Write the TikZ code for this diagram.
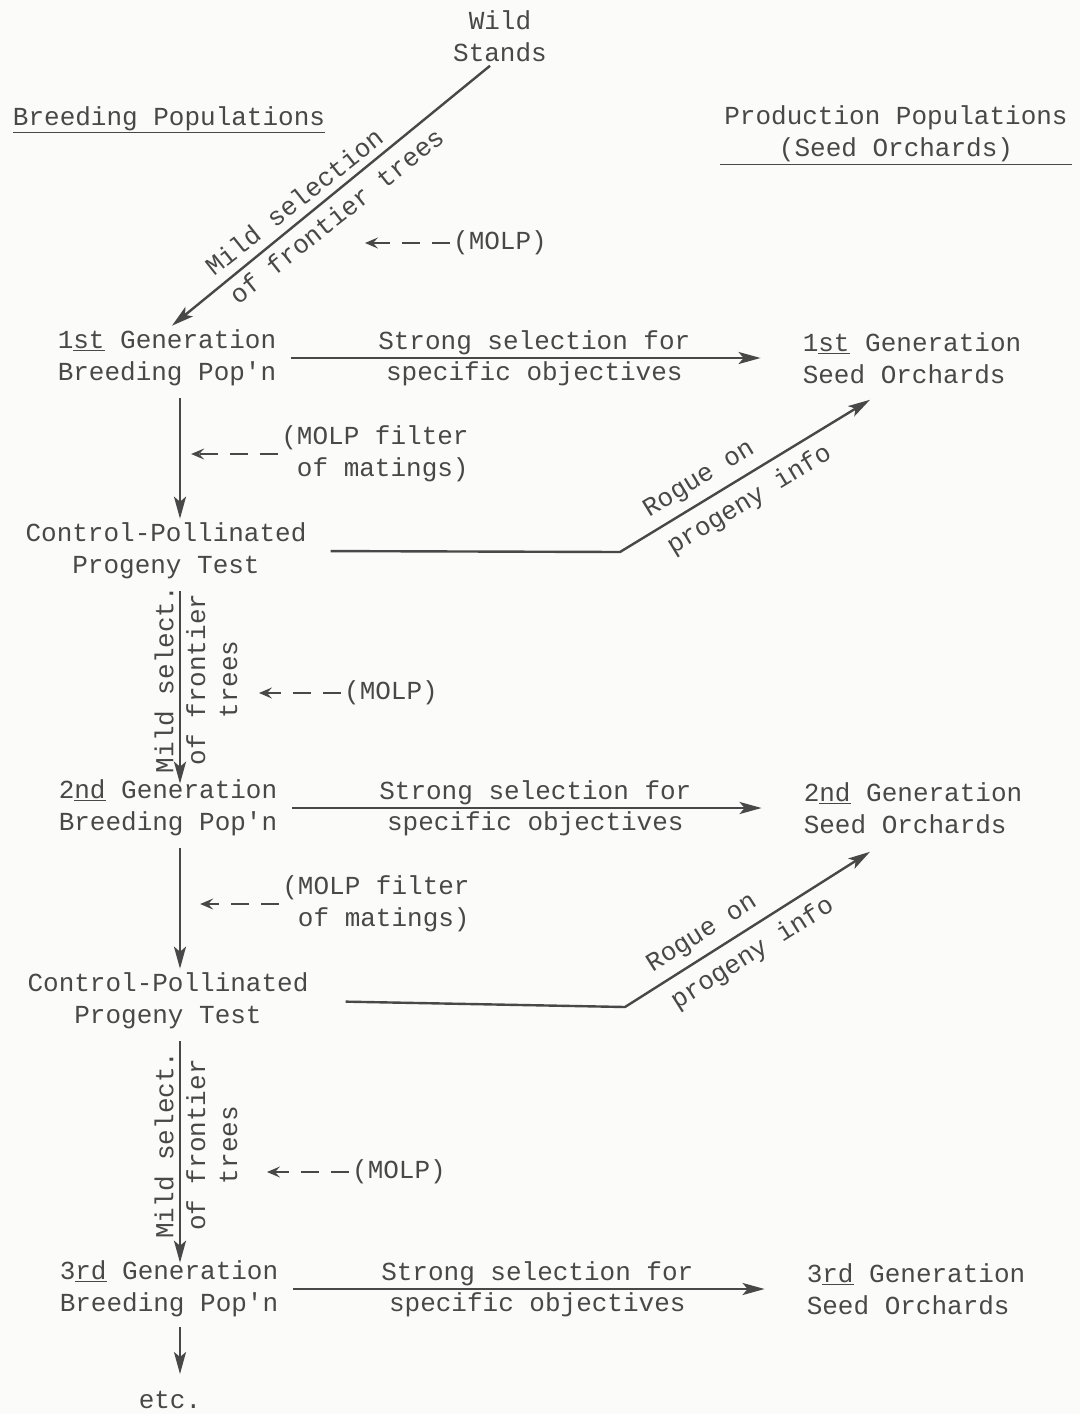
\documentclass[tikz,border=0pt]{standalone}
\usepackage{fontspec}
\newfontfamily\typer{Liberation Mono}
\usepackage{tikz}
\usetikzlibrary{arrows.meta}
\definecolor{ink}{RGB}{72,72,72}
\definecolor{paper}{RGB}{251,251,249}

\begin{document}
\begin{tikzpicture}[x=1pt,y=1pt,
  lbl/.style={font=\typer\fontsize{26}{32}\selectfont,text=ink,align=center,inner sep=4pt},
  tag/.style={lbl,inner sep=3pt},
  arr/.style={draw=ink,line width=2.4pt,-{Stealth[length=22pt,width=12pt,inset=5pt]}},
  hint/.style={draw=ink,line width=1.6pt,dash pattern=on 18pt off 12pt,-{Stealth[length=13pt,width=11pt,inset=5pt]}},
  rule/.style={draw=ink,line width=1.6pt}]
\fill[paper] (0,0) rectangle (1080,-1414);
\useasboundingbox (0,0) rectangle (1080,-1414);

% headings
\node[lbl] (wild) at (500,-36) {Wild\\Stands};
\node[lbl] (breed) at (169,-120) {\underline{Breeding Populations}};
\node[lbl] (prod) at (896,-134) {Production Populations\\(Seed Orchards)};
\draw[rule] ([yshift=2pt]prod.south west) -- ([yshift=2pt]prod.south east);

% breeding and production populations
\node[lbl] (gen1) at (167,-358) {1\underline{st} Generation\\Breeding Pop'n};
\node[lbl,align=left] (orch1) at (912,-358) {1\underline{st} Generation\\Seed Orchards};
\node[lbl] (cp1) at (166,-551) {Control-Pollinated\\Progeny Test};
\node[lbl] (gen2) at (168,-808) {2\underline{nd} Generation\\Breeding Pop'n};
\node[lbl,align=left] (orch2) at (913,-808) {2\underline{nd} Generation\\Seed Orchards};
\node[lbl] (cp2) at (168,-1001) {Control-Pollinated\\Progeny Test};
\node[lbl] (gen3) at (169,-1289) {3\underline{rd} Generation\\Breeding Pop'n};
\node[lbl,align=left] (orch3) at (916,-1289) {3\underline{rd} Generation\\Seed Orchards};
\node[lbl] (etc) at (170,-1400) {etc.};

% MOLP notes
\node[tag] (molp1) at (500,-243) {(MOLP)};
\node[tag,align=right] (filt1) at (375,-454) {(MOLP filter\\of matings)};
\node[tag] (molp2) at (391,-693) {(MOLP)};
\node[tag,align=right] (filt2) at (376,-904) {(MOLP filter\\of matings)};
\node[tag] (molp3) at (399,-1172) {(MOLP)};

\coordinate (col) at (180,0);
\coordinate (k1) at (620,-552);
\coordinate (k2) at (625,-1007);

% selection from wild stands
\draw[arr] ([xshift=-10pt]wild.south) --
  node[pos=.58,rotate=38.4,anchor=south,tag,inner sep=8pt]{Mild selection}
  node[pos=.52,rotate=38.4,anchor=north,tag,inner sep=8pt]{of frontier trees} ([xshift=5pt]gen1.north);

% strong selection into seed orchards
\draw[arr,shorten <=11pt,shorten >=38pt] (gen1.east) --
  node[pos=.49,anchor=south,tag,inner sep=2pt]{Strong selection for}
  node[pos=.49,anchor=north,tag,inner sep=2pt]{specific objectives} (orch1.west);
\draw[arr,shorten <=11pt,shorten >=38pt] (gen2.east) --
  node[pos=.49,anchor=south,tag,inner sep=2pt]{Strong selection for}
  node[pos=.49,anchor=north,tag,inner sep=2pt]{specific objectives} (orch2.west);
\draw[arr,shorten <=11pt,shorten >=38pt] (gen3.east) --
  node[pos=.49,anchor=south,tag,inner sep=2pt]{Strong selection for}
  node[pos=.49,anchor=north,tag,inner sep=2pt]{specific objectives} (orch3.west);

% down the breeding column
\draw[arr,shorten <=8pt] (gen1.south -| col) -- (cp1.north -| col);
\draw[arr,shorten <=8pt,shorten >=-8pt] (cp1.south -| col) --
  node[rotate=90,anchor=south,tag,inner sep=5pt]{Mild select.}
  node[rotate=90,anchor=north,tag,inner sep=5pt]{of frontier\\trees} (gen2.north -| col);
\draw[arr,shorten <=8pt] (gen2.south -| col) -- (cp2.north -| col);
\draw[arr,shorten <=8pt,shorten >=-6pt] (cp2.south -| col) --
  node[rotate=90,anchor=south,tag,inner sep=5pt]{Mild select.}
  node[rotate=90,anchor=north,tag,inner sep=5pt]{of frontier\\trees} (gen3.north -| col);
\draw[arr,shorten <=6pt,shorten >=13pt] (gen3.south -| col) -- (etc.north -| col);

% roguing on progeny info
\draw[arr,shorten <=20pt] (cp1.east) -- (k1) --
  node[pos=.36,rotate=31.3,anchor=south,tag,inner sep=8pt]{Rogue on}
  node[pos=.47,rotate=31.3,anchor=north,tag,inner sep=10pt]{progeny info}
  ([shift={(-42pt,-12pt)}]orch1.south);
\draw[arr,shorten <=33pt] (cp2.east) -- (k2) --
  node[pos=.36,rotate=32.3,anchor=south,tag,inner sep=8pt]{Rogue on}
  node[pos=.47,rotate=32.3,anchor=north,tag,inner sep=10pt]{progeny info}
  ([shift={(-43pt,-14pt)}]orch2.south);

% MOLP hints
\draw[hint] (molp1.west) -- ++(-85,0);
\draw[hint] (filt1.west) -- ++(-87,0);
\draw[hint] (molp2.west) -- ++(-82,0);
\draw[hint] (filt2.west) -- ++(-79,0);
\draw[hint] (molp3.west) -- ++(-82,0);
\end{tikzpicture}
\end{document}
